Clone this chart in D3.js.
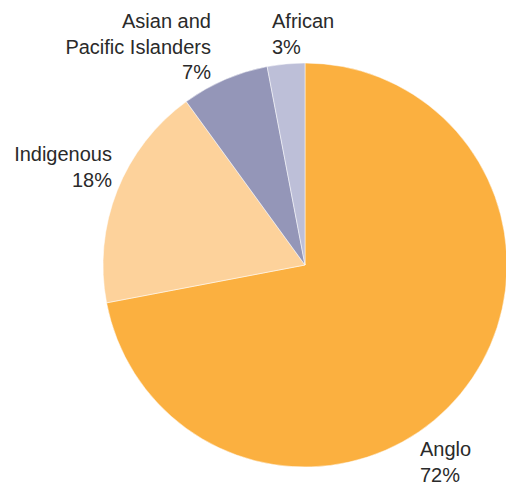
<!DOCTYPE html>
<html><head><meta charset="utf-8">
<script src="https://cdn.jsdelivr.net/npm/d3@7"></script>
<style>html,body{margin:0;padding:0;background:#fff;}svg{display:block;}</style>
</head><body>
<svg id="chart" width="506" height="484"></svg>
<script>
const categories = ["Anglo", "Indigenous", "Asian and Pacific Islanders", "African"];
const values = [72, 18, 7, 3];
const colors = ["#fbb040", "#fdd29b", "#9496b8", "#bdbfd8"];
const labelLines = [["Anglo", "72%"], ["Indigenous", "18%"], ["Asian and", "Pacific Islanders", "7%"], ["African", "3%"]];

// layout (not data)
const cx = 305, cy = 265, r = 202;
const labelLayout = [
  {x: 420, y: 456, anchor: "start"},
  {x: 112, y: 161, anchor: "end"},
  {x: 211, y: 28, anchor: "end"},
  {x: 272, y: 28, anchor: "start"}
];

const svg = d3.select("#chart");
const pie = d3.pie().sort(null).value(d => d)(values);
const arc = d3.arc().innerRadius(0).outerRadius(r);
const g = svg.append("g").attr("transform", `translate(${cx},${cy})`);
g.selectAll("path").data(pie).join("path")
  .attr("d", arc)
  .attr("fill", (d, i) => colors[i])
  .attr("stroke", "#fff").attr("stroke-width", 0.5);

labelLayout.forEach((p, i) => {
  const t = svg.append("text")
    .attr("x", p.x).attr("y", p.y)
    .attr("text-anchor", p.anchor)
    .attr("font-family", "'Liberation Sans', Arial, sans-serif")
    .attr("font-size", 20)
    .attr("fill", "#2a2a2a");
  labelLines[i].forEach((line, j) => {
    t.append("tspan").attr("x", p.x).attr("y", p.y + j * 25.5).text(line);
  });
});
</script>
</body></html>
